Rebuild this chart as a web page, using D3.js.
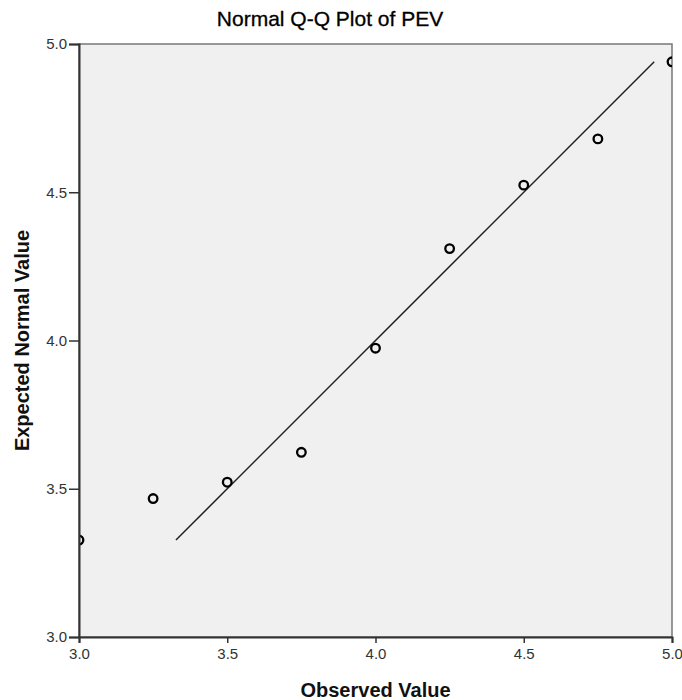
<!DOCTYPE html>
<html lang="en">
<head>
<meta charset="utf-8">
<title>Normal Q-Q Plot of PEV</title>
<script src="https://cdn.jsdelivr.net/npm/d3@7"></script>
<style>
  body { margin: 0; background: #fff; }
  text { font-family: "Liberation Sans", Arial, sans-serif; }
</style>
</head>
<body>
<script>
// data
var observed = [3.0, 3.25, 3.5, 3.75, 4.0, 4.25, 4.5, 4.75, 5.0];
var expected = [3.327, 3.467, 3.522, 3.623, 3.974, 4.310, 4.524, 4.680, 4.940];
var xTicks = [3.0, 3.5, 4.0, 4.5, 5.0];
var yTicks = [3.0, 3.5, 4.0, 4.5, 5.0];
var refLine = [3.327, 4.940];

var w = 682, h = 700;
var mLeft = 79, mRight = 672, mTop = 44, mBottom = 637;

var svg = d3.select("body").append("svg")
  .attr("width", w)
  .attr("height", h);

var x = d3.scaleLinear().domain([3, 5]).range([mLeft, mRight]);
var y = d3.scaleLinear().domain([3, 5]).range([mBottom, mTop]);

svg.append("defs").append("clipPath").attr("id", "plotclip")
  .append("rect")
  .attr("x", mLeft).attr("y", mTop)
  .attr("width", mRight - mLeft).attr("height", mBottom - mTop);

// plot background + frame
svg.append("rect")
  .attr("x", mLeft).attr("y", mTop)
  .attr("width", mRight - mLeft).attr("height", mBottom - mTop)
  .attr("fill", "#f0f0f0")
  .attr("stroke", "#777")
  .attr("stroke-width", 1.5);

var plot = svg.append("g").attr("clip-path", "url(#plotclip)");

// reference line
plot.append("line")
  .attr("x1", x(refLine[0])).attr("y1", y(refLine[0]))
  .attr("x2", x(refLine[1])).attr("y2", y(refLine[1]))
  .attr("stroke", "#222")
  .attr("stroke-width", 1.5);

// points
plot.selectAll("circle")
  .data(observed)
  .enter()
  .append("circle")
  .attr("cx", function(d) { return x(d); })
  .attr("cy", function(d, i) { return y(expected[i]); })
  .attr("r", 4.3)
  .attr("fill", "none")
  .attr("stroke", "#000")
  .attr("stroke-width", 2.3);

// axes
var xAxis = svg.append("g")
  .attr("transform", "translate(0," + mBottom + ")")
  .call(d3.axisBottom(x).tickValues(xTicks).tickFormat(d3.format(".1f")).tickSize(6).tickPadding(5));

var yAxis = svg.append("g")
  .attr("transform", "translate(" + mLeft + ",0)")
  .call(d3.axisLeft(y).tickValues(yTicks).tickFormat(d3.format(".1f")).tickSize(10).tickPadding(2));

[xAxis, yAxis].forEach(function(a) {
  a.attr("font-size", 15);
  a.select(".domain").attr("stroke", "#333").attr("stroke-width", 2);
  a.selectAll(".tick line").attr("stroke", "#333").attr("stroke-width", 1.5);
  a.selectAll(".tick text").attr("fill", "#333");
});

// title and axis labels
svg.append("text")
  .attr("x", 330).attr("y", 26)
  .attr("text-anchor", "middle")
  .style("font-size", "21px")
  .attr("fill", "#000")
  .attr("stroke", "#000")
  .attr("stroke-width", 0.3)
  .text("Normal Q-Q Plot of PEV");

svg.append("text")
  .attr("x", (mLeft + mRight) / 2).attr("y", 697)
  .attr("text-anchor", "middle")
  .style("font-size", "20px")
  .style("font-weight", "bold")
  .attr("fill", "#111")
  .text("Observed Value");

svg.append("text")
  .attr("transform", "translate(29," + ((mTop + mBottom) / 2) + ") rotate(-90)")
  .attr("text-anchor", "middle")
  .style("font-size", "20px")
  .style("font-weight", "bold")
  .attr("fill", "#111")
  .text("Expected Normal Value");
</script>
</body>
</html>
